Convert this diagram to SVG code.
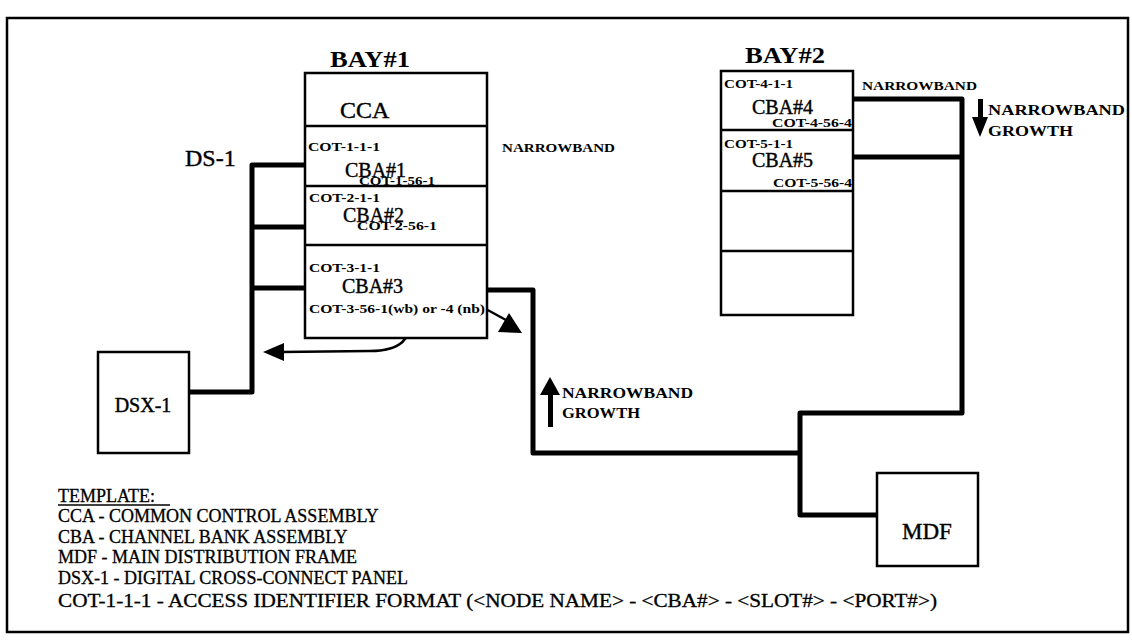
<svg xmlns="http://www.w3.org/2000/svg" width="1132" height="643" viewBox="0 0 1132 643">
<style>
.bg{fill:#fff}
.frame{fill:none;stroke:#000;stroke-width:2.5}
.box{fill:#fff;stroke:#000;stroke-width:2.5}
.div{stroke:#000;stroke-width:2.5}
.wire{fill:none;stroke:#000;stroke-width:5;stroke-linejoin:round}
.thin{fill:none;stroke:#000;stroke-width:2.5}
.big{font-family:"Liberation Serif","Times New Roman",serif;fill:#000;stroke:#000;stroke-width:0.4}
.bay{font-family:"Liberation Serif","Times New Roman",serif;font-weight:bold;font-size:23px;fill:#000}
.sm{font-family:"Liberation Serif","Times New Roman",serif;font-weight:bold;font-size:12px;fill:#000}
.md{font-family:"Liberation Serif","Times New Roman",serif;font-weight:bold;font-size:15px;fill:#000}
.tpl{font-family:"Liberation Serif","Times New Roman",serif;font-size:18px;fill:#000;stroke:#000;stroke-width:0.3}
</style>
<rect class="bg" x="0" y="0" width="1132" height="643"/>
<rect class="frame" x="7" y="18" width="1121" height="614"/>

<g id="connectors">
  <path class="wire" d="M305,165 H252 V392 H189"/>
  <path class="wire" d="M252,227 H305"/>
  <path class="wire" d="M252,288 H305"/>
  <path class="wire" d="M487,290 H533 V453 H800"/>
  <path class="wire" d="M853,99 H962 V413 H800 V515 H877"/>
  <path class="wire" d="M853,157 H962"/>
  <path class="thin" d="M414,314 C411,340 400,351 370,351 L281,352"/>
  <polygon points="263,352 284,343 284,361" fill="#000"/>
  <path class="thin" d="M484,308 L506,320"/>
  <polygon points="498,332 522,333 509,313" fill="#000"/>
  <rect x="548" y="392" width="5" height="35" fill="#000"/>
  <polygon points="550,377 540,395 560,395" fill="#000"/>
  <rect x="978" y="99" width="5" height="20" fill="#000"/>
  <polygon points="972,117 988,117 980,137" fill="#000"/>
</g>

<g id="bay1">
  <text class="bay" x="330" y="67" textLength="80" lengthAdjust="spacingAndGlyphs">BAY#1</text>
  <rect class="box" x="305" y="73" width="182" height="265"/>
  <line class="div" x1="305" y1="126" x2="487" y2="126"/>
  <line class="div" x1="305" y1="186" x2="487" y2="186"/>
  <line class="div" x1="305" y1="245" x2="487" y2="245"/>
</g>
<g id="cca">
  <text class="big" x="340" y="118" font-size="24">CCA</text>
</g>
<g id="cba1">
  <text class="sm" x="308" y="151" textLength="72" lengthAdjust="spacingAndGlyphs">COT-1-1-1</text>
  <text class="big" x="345" y="177" font-size="20">CBA#1</text>
  <text class="sm" x="359" y="185" textLength="76" lengthAdjust="spacingAndGlyphs">COT-1-56-1</text>
</g>
<g id="cba2">
  <text class="sm" x="309" y="202" textLength="71" lengthAdjust="spacingAndGlyphs">COT-2-1-1</text>
  <text class="big" x="343" y="222" font-size="20">CBA#2</text>
  <text class="sm" x="357" y="230" textLength="80" lengthAdjust="spacingAndGlyphs">COT-2-56-1</text>
</g>
<g id="cba3">
  <text class="sm" x="309" y="272" textLength="71" lengthAdjust="spacingAndGlyphs">COT-3-1-1</text>
  <text class="big" x="342" y="293" font-size="20">CBA#3</text>
  <text class="sm" x="309" y="313" textLength="176" lengthAdjust="spacingAndGlyphs">COT-3-56-1(wb) or -4 (nb)</text>
</g>

<g id="bay2">
  <text class="bay" x="745" y="63" textLength="80" lengthAdjust="spacingAndGlyphs">BAY#2</text>
  <rect class="box" x="721" y="71" width="132" height="244"/>
  <line class="div" x1="721" y1="130" x2="853" y2="130"/>
  <line class="div" x1="721" y1="191" x2="853" y2="191"/>
  <line class="div" x1="721" y1="251" x2="853" y2="251"/>
</g>
<g id="cba4">
  <text class="sm" x="724" y="88" textLength="69" lengthAdjust="spacingAndGlyphs">COT-4-1-1</text>
  <text class="big" x="752" y="114" font-size="20">CBA#4</text>
  <text class="sm" x="772" y="127" textLength="80" lengthAdjust="spacingAndGlyphs">COT-4-56-4</text>
</g>
<g id="cba5">
  <text class="sm" x="724" y="148" textLength="69" lengthAdjust="spacingAndGlyphs">COT-5-1-1</text>
  <text class="big" x="752" y="167" font-size="20">CBA#5</text>
  <text class="sm" x="773" y="187" textLength="79" lengthAdjust="spacingAndGlyphs">COT-5-56-4</text>
</g>

<g id="dsx1">
  <rect class="box" x="98" y="352" width="91" height="101"/>
  <text class="big" x="143" y="412" font-size="20" text-anchor="middle">DSX-1</text>
</g>
<g id="mdf">
  <rect class="box" x="877" y="473" width="101" height="93"/>
  <text class="big" x="927" y="539" font-size="23" text-anchor="middle">MDF</text>
</g>

<g id="labels">
  <text class="big" x="185" y="166" font-size="24">DS-1</text>
  <text class="sm" x="502" y="152" textLength="113" lengthAdjust="spacingAndGlyphs">NARROWBAND</text>
  <text class="sm" x="862" y="90" textLength="115" lengthAdjust="spacingAndGlyphs">NARROWBAND</text>
  <text class="md" x="988" y="115" textLength="137" lengthAdjust="spacingAndGlyphs">NARROWBAND</text>
  <text class="md" x="988" y="136" textLength="85" lengthAdjust="spacingAndGlyphs">GROWTH</text>
  <text class="md" x="562" y="398" textLength="131" lengthAdjust="spacingAndGlyphs">NARROWBAND</text>
  <text class="md" x="562" y="418" textLength="78" lengthAdjust="spacingAndGlyphs">GROWTH</text>
</g>

<g id="template">
  <text class="tpl" x="58" y="502">TEMPLATE:</text>
  <line x1="58" y1="505" x2="170" y2="505" stroke="#000" stroke-width="1.5"/>
  <text class="tpl" x="58" y="522">CCA - COMMON CONTROL ASSEMBLY</text>
  <text class="tpl" x="58" y="543">CBA - CHANNEL BANK ASSEMBLY</text>
  <text class="tpl" x="58" y="563">MDF - MAIN DISTRIBUTION FRAME</text>
  <text class="tpl" x="58" y="584">DSX-1 - DIGITAL CROSS-CONNECT PANEL</text>
  <text class="tpl" x="58" y="607" textLength="879" lengthAdjust="spacingAndGlyphs">COT-1-1-1 - ACCESS IDENTIFIER FORMAT (&lt;NODE NAME&gt; - &lt;CBA#&gt; - &lt;SLOT#&gt; - &lt;PORT#&gt;)</text>
</g>
</svg>
